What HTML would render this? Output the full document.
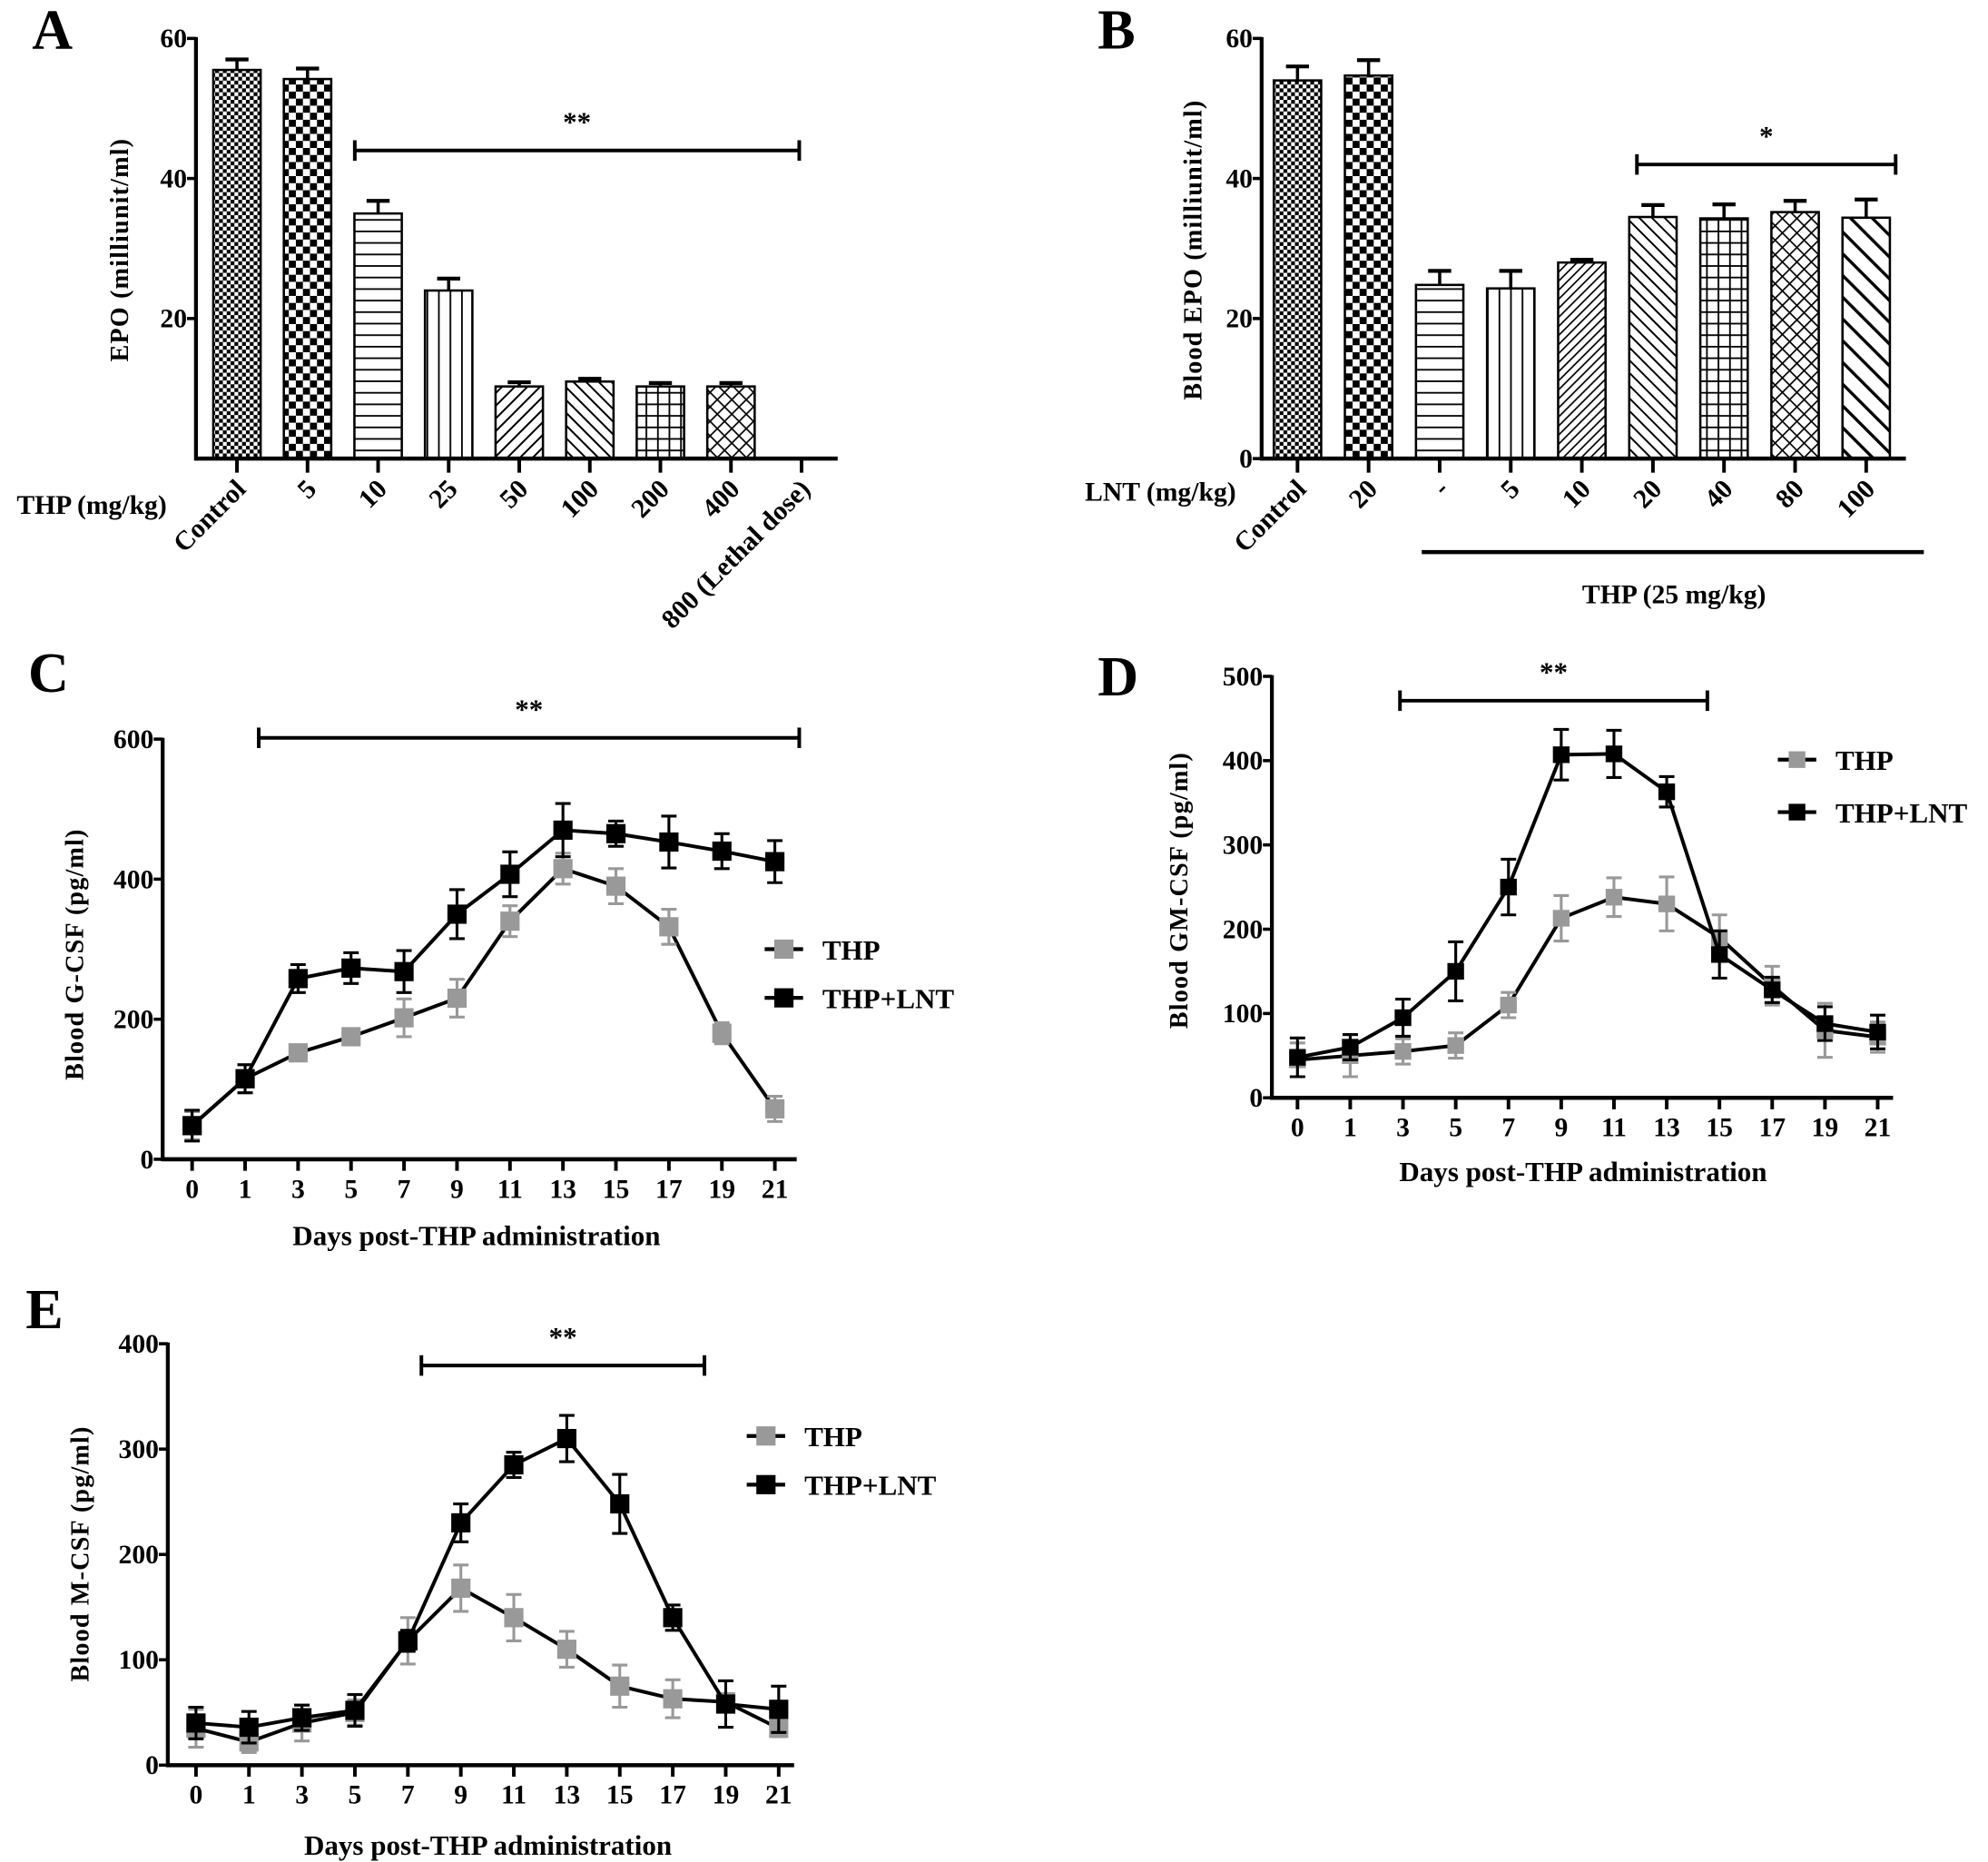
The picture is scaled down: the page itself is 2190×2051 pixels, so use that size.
<!DOCTYPE html>
<html><head><meta charset="utf-8">
<style>
html,body{margin:0;padding:0;background:#fff;}
svg{display:block;}
text{font-family:"Liberation Serif",serif;font-weight:bold;fill:#000;}
</style></head>
<body>
<svg id="fig" xmlns="http://www.w3.org/2000/svg" width="2190" height="2051" viewBox="0 0 1552.1 1453.6" preserveAspectRatio="none">
<defs>
<pattern id="pFineCheck" width="6" height="6" patternUnits="userSpaceOnUse"><rect width="6" height="6" fill="#fff"/><rect width="3" height="3" fill="#000"/><rect x="3" y="3" width="3" height="3" fill="#000"/></pattern>
<pattern id="pBigCheck" width="11" height="11" patternUnits="userSpaceOnUse"><rect width="11" height="11" fill="#fff"/><rect width="5.5" height="5.5" fill="#000"/><rect x="5.5" y="5.5" width="5.5" height="5.5" fill="#000"/></pattern>
<pattern id="pHoriz" width="8" height="9" patternUnits="userSpaceOnUse"><rect width="8" height="9" fill="#fff"/><rect y="0" width="8" height="1.3" fill="#000"/></pattern>
<pattern id="pVert" width="9" height="8" patternUnits="userSpaceOnUse"><rect width="9" height="8" fill="#fff"/><rect x="0" width="1.3" height="8" fill="#000"/></pattern>
<pattern id="pDiagF" width="7" height="7" patternUnits="userSpaceOnUse" patternTransform="rotate(45)"><rect width="7" height="7" fill="#fff"/><rect width="1.4" height="7" fill="#000"/></pattern>
<pattern id="pDiagB" width="7" height="7" patternUnits="userSpaceOnUse" patternTransform="rotate(-45)"><rect width="7" height="7" fill="#fff"/><rect width="1.4" height="7" fill="#000"/></pattern>
<pattern id="pDiagFD" width="5" height="5" patternUnits="userSpaceOnUse" patternTransform="rotate(45)"><rect width="5" height="5" fill="#fff"/><rect width="1.2" height="5" fill="#000"/></pattern>
<pattern id="pDiagWide" width="12" height="12" patternUnits="userSpaceOnUse" patternTransform="rotate(-45)"><rect width="12" height="12" fill="#fff"/><rect width="2.4" height="12" fill="#000"/></pattern>
<pattern id="pGrid" width="9" height="9" patternUnits="userSpaceOnUse"><rect width="9" height="9" fill="#fff"/><rect width="9" height="1.3" fill="#000"/><rect width="1.3" height="9" fill="#000"/></pattern>
<pattern id="pCross" width="8" height="8" patternUnits="userSpaceOnUse" patternTransform="rotate(45)"><rect width="8" height="8" fill="#fff"/><rect width="8" height="1.2" fill="#000"/><rect width="1.2" height="8" fill="#000"/></pattern>
</defs>
<g id="root"></g>
</svg>
<script>
// ---- Panel A data ----
const aCategories = ["Control","5","10","25","50","100","200","400","800 (Lethal dose)"];
const aValues = [55.5, 54.2, 35, 24, 10.3, 11, 10.3, 10.3, null];
const aErrors = [1.5, 1.5, 1.8, 1.7, 0.6, 0.4, 0.5, 0.5, null];
const aYTicks = [20, 40, 60];
// ---- Panel B data ----
const bCategories = ["Control","20","-","5","10","20","40","80","100"];
const bValues = [54, 54.7, 24.8, 24.3, 28, 34.5, 34.3, 35.2, 34.4];
const bErrors = [2, 2.2, 2, 2.5, 0.4, 1.7, 2, 1.6, 2.6];
const bYTicks = [0, 20, 40, 60];
// ---- Line charts ----
const days = ["0","1","3","5","7","9","11","13","15","17","19","21"];
const cThp = [48,115,152,175,202,230,340,415,390,332,180,72];
const cThpErr = [20,20,8,8,27,27,22,22,25,25,15,18];
const cLnt = [48,115,258,273,268,350,407,470,465,453,440,425];
const cLntErr = [22,20,20,22,30,35,32,38,18,37,25,30];
const cYTicks = [0,200,400,600];
const dThp = [45,50,55,62,110,213,238,230,190,133,80,72];
const dThpErr = [20,25,15,15,15,27,23,32,27,23,32,18];
const dLnt = [48,60,95,150,250,407,408,363,170,128,88,78];
const dLntErr = [23,15,22,35,33,30,28,18,28,15,20,20];
const dYTicks = [0,100,200,300,400,500];
const eThp = [35,22,40,50,118,168,140,110,75,63,60,35];
const eThpErr = [18,10,17,12,22,22,22,17,20,18,8,8];
const eLnt = [40,36,45,52,118,230,285,310,248,140,58,53];
const eLntErr = [15,15,12,15,10,18,12,22,28,12,22,22];
const eYTicks = [0,100,200,300,400];

const NS = "http://www.w3.org/2000/svg";
const root = document.getElementById("root");
function mk(tag, attrs, parent, txt){
  const e = document.createElementNS(NS, tag);
  for (const k in attrs) e.setAttribute(k, attrs[k]);
  if (txt !== undefined) e.textContent = txt;
  (parent || root).appendChild(e);
  return e;
}
function grp(name){ const g = mk("g", {});   return g; }
function line(g,x1,y1,x2,y2,w,c){ return mk("line",{x1,y1,x2,y2,stroke:c||"#000","stroke-width":w||2.5},g); }
function text(g,x,y,s,size,anchor,extra){ const t = mk("text",Object.assign({x,y,"font-size":size,"text-anchor":anchor||"middle"},extra||{}),g,s); return t; }

function sigBar(g, x1, x2, y, label){
  line(g,x1,y,x2,y,2.8); line(g,x1,y-8,x1,y+8,2.8); line(g,x2,y-8,x2,y+8,2.8);
  const t = text(g,(x1+x2)/2,y-15,label,22);
  
  
}

function barChart(cfg){
  const g = grp(cfg.name);
  const yS = v => cfg.y0 - (v - 0) / cfg.yMax * (cfg.y0 - cfg.yTop);
  const xS = i => cfg.c0 + i * cfg.step;
  const ya = line(g,cfg.xAxis,cfg.yTop-1,cfg.xAxis,cfg.y0+1.5,3);
   
  cfg.yTicks.forEach(v=>{ line(g,cfg.xAxis-7,yS(v),cfg.xAxis,yS(v),2.5);
    const t=text(g,cfg.xAxis-7,yS(v)+7,String(v),21,"end");
      });
  cfg.cats.forEach((c,i)=>{
    const v = cfg.vals[i];
    const cx = xS(i);
    if (v !== null){
      const e = cfg.errs[i];
      line(g,cx,yS(v),cx,yS(v+e),2.5);
      line(g,cx-9,yS(v+e),cx+9,yS(v+e),3);
      const r = mk("rect",{x:cx-cfg.bw/2,y:yS(v),width:cfg.bw,height:cfg.y0-yS(v),fill:"url(#"+cfg.pats[i]+")",stroke:"#000","stroke-width":1.8},g);
      
      
    }
    line(g,cx,cfg.y0,cx,cfg.y0+11,2.8);
    const t = text(g,cx+8,cfg.y0+25,c,21,"end",{transform:"rotate(-45 "+(cx+8)+" "+(cfg.y0+25)+")"});
     
  });
  const xa = line(g,cfg.xAxis-1,cfg.y0,cfg.xEnd,cfg.y0,3.2);
   
  sigBar(g, cfg.sig[0], cfg.sig[1], yS(cfg.sig[2]), cfg.sig[3]);
  return {g,yS,xS};
}

function lineChart(cfg){
  const g = grp(cfg.name);
  const yS = v => cfg.y0 - v / cfg.yMax * (cfg.y0 - cfg.yTop);
  const xS = i => cfg.c0 + i * cfg.step;
  const ya = line(g,cfg.xAxis,cfg.yTop-1,cfg.xAxis,cfg.y0+1.5,3);
   
  cfg.yTicks.forEach(v=>{ line(g,cfg.xAxis-7,yS(v),cfg.xAxis,yS(v),2.5);
    const t=text(g,cfg.xAxis-7,yS(v)+7,String(v),21,"end");
      });
  const xa = line(g,cfg.xAxis-1,cfg.y0,cfg.xEnd,cfg.y0,3.2);
   
  days.forEach((d,i)=>{ line(g,xS(i),cfg.y0,xS(i),cfg.y0+9,2.8);
    const t=text(g,xS(i),cfg.y0+30,d,21);
      });
  const series = [[cfg.thp,cfg.thpErr,"#999","thp"],[cfg.lnt,cfg.lntErr,"#000","thp-lnt"]];
  series.forEach(([vals,errs,col,nm])=>{
    const sg = grp("series-"+nm);
    g.appendChild(sg);
    const pts = vals.map((v,i)=>xS(i)+","+yS(v)).join(" ");
    const pl = mk("polyline",{points:pts,fill:"none",stroke:"#000","stroke-width":2.8},sg);
     
    vals.forEach((v,i)=>{
      const x=xS(i), e=errs[i];
      line(sg,x,yS(v-e),x,yS(v+e),2.2,col);
      line(sg,x-6,yS(v+e),x+6,yS(v+e),2.2,col);
      line(sg,x-6,yS(v-e),x+6,yS(v-e),2.2,col);
      const m = mk("rect",{x:x-cfg.ms/2,y:yS(v)-cfg.ms/2,width:cfg.ms,height:cfg.ms,fill:col},sg);
       
    });
  });
  const lg = grp("legend"); g.appendChild(lg);
  [["THP","#999",cfg.leg[1]],["THP+LNT","#000",cfg.leg[2]]].forEach(([lab,col,y])=>{
    const x=cfg.leg[0];
    line(lg,x,y,x+30,y,3);
    mk("rect",{x:x+15-cfg.ms/2,y:y-cfg.ms/2,width:cfg.ms,height:cfg.ms,fill:col},lg);
    const t=text(lg,x+45,y+8,lab,22,"start");
     
  });
  sigBar(g, cfg.sig[0], cfg.sig[1], cfg.sig[2], "**");
  const xt = text(g,cfg.xt[0],cfg.xt[1],"Days post-THP administration",22);
   
  const yt = text(g,cfg.yt[0],cfg.yt[1],cfg.ytitle,20,"middle",{transform:"rotate(-90 "+cfg.yt[0]+" "+cfg.yt[1]+")","letter-spacing":"0.8"});
   
}

barChart({name:"panel-a-chart",cats:aCategories,vals:aValues,errs:aErrors,yTicks:aYTicks,yMax:60,y0:358,yTop:30,
  xAxis:153,xEnd:654,c0:185,step:55.1,bw:37,
  pats:["pFineCheck","pBigCheck","pHoriz","pVert","pDiagF","pDiagB","pGrid","pCross",""],
  sig:[277,624,44,"**"]});
barChart({name:"panel-b-chart",cats:bCategories,vals:bValues,errs:bErrors,yTicks:bYTicks,yMax:60,y0:358,yTop:30,
  xAxis:985,xEnd:1488,c0:1013,step:55.5,bw:37,
  pats:["pFineCheck","pBigCheck","pHoriz","pVert","pDiagFD","pDiagB","pGrid","pCross","pDiagWide"],
  sig:[1278,1480,42,"*"]});

const lbl = grp("panel-labels");
[["A",25,38],["B",857,38],["C",22,540],["D",857,543],["E",20,1037]].forEach(([s,x,y])=>{
  const t=text(lbl,x,y,s,44,"start");  
});
let t;
t = text(lbl,100,195,"EPO (milliunit/ml)",20,"middle",{transform:"rotate(-90 100 195)","letter-spacing":"0.8"});
 
t = text(lbl,938,195,"Blood EPO (milliunit/ml)",20,"middle",{transform:"rotate(-90 938 195)","letter-spacing":"0.8"});
 
t = text(lbl,13,401,"THP (mg/kg)",21,"start");
 
t = text(lbl,847,391,"LNT (mg/kg)",21,"start");
 
line(lbl,1110,431,1502,431,3.2);
t = text(lbl,1307,471,"THP (25 mg/kg)",21);
 

lineChart({name:"panel-c-chart",thp:cThp,thpErr:cThpErr,lnt:cLnt,lntErr:cLntErr,yTicks:cYTicks,yMax:600,y0:905,yTop:577,
  xAxis:127,xEnd:622,c0:150,step:41.36,ms:15,leg:[597,741,779],sig:[202,624,576],xt:[372,972],yt:[65,745],ytitle:"Blood G-CSF (pg/ml)"});
lineChart({name:"panel-d-chart",thp:dThp,thpErr:dThpErr,lnt:dLnt,lntErr:dLntErr,yTicks:dYTicks,yMax:500,y0:857,yTop:528,
  xAxis:993,xEnd:1478,c0:1013,step:41.18,ms:13,leg:[1388,593,634],sig:[1093,1333,547],xt:[1236,922],yt:[927,695],ytitle:"Blood GM-CSF (pg/ml)"});
lineChart({name:"panel-e-chart",thp:eThp,thpErr:eThpErr,lnt:eLnt,lntErr:eLntErr,yTicks:eYTicks,yMax:400,y0:1378,yTop:1049,
  xAxis:131,xEnd:620,c0:153,step:41.36,ms:15,leg:[583,1121,1159],sig:[329,550,1066],xt:[381,1448],yt:[69,1213],ytitle:"Blood M-CSF (pg/ml)"});
</script>
</body></html>
